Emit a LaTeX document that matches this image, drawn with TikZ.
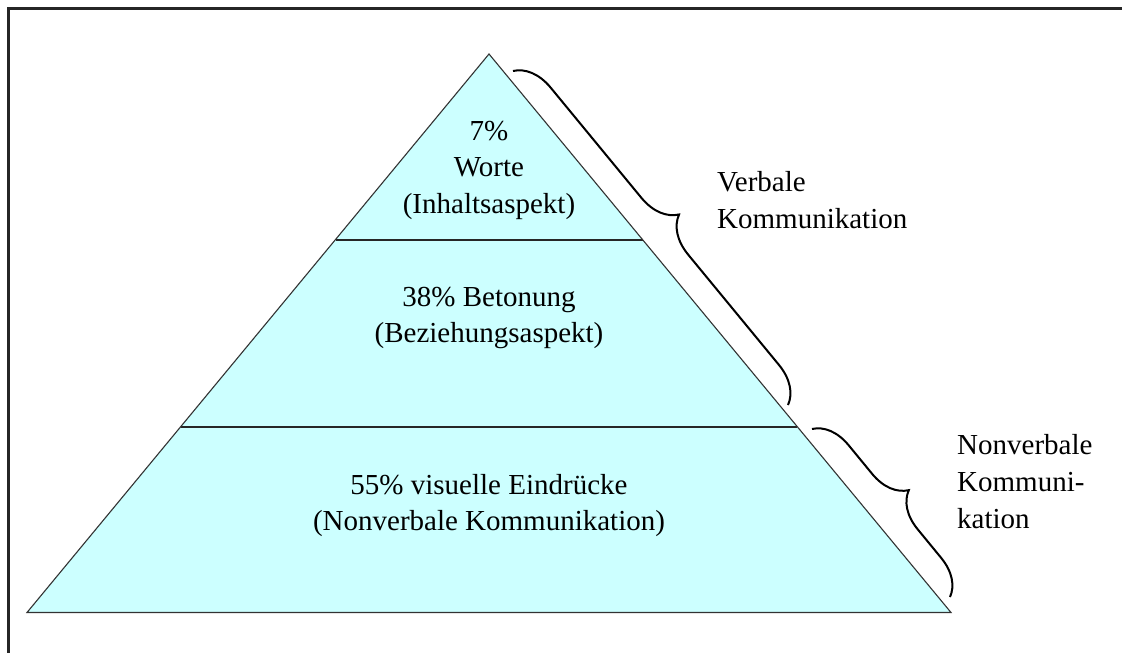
\documentclass[tikz,border=0pt]{standalone}
\usepackage{fontspec}
\setmainfont{Liberation Serif}
\usetikzlibrary{decorations.pathreplacing}
\definecolor{pyrfill}{HTML}{CCFFFF}
\begin{document}
\begin{tikzpicture}[x=1pt,y=-1pt,
  lbl/.style={anchor=base,inner sep=0pt,font=\fontsize{29}{36}\selectfont},
  sidelbl/.style={anchor=base west,inner sep=0pt,font=\fontsize{29}{36}\selectfont},
  divider/.style={draw=black!85,line width=2pt},
  bracket/.style={draw=black,line width=2pt,decorate,decoration={brace,amplitude=37pt}}]
\useasboundingbox (0,0) rectangle (1122,653);
% frame (left and top edges)
\draw[line width=2.2pt,black!85] (8.5,653) -- (8.5,8.5) -- (1122,8.5);
% pyramid
\coordinate (apex) at (489,54);
\coordinate (bl) at (27,612.5);
\coordinate (br) at (951,612.5);
\fill[pyrfill] (apex) -- (br) -- (bl) -- cycle;
\draw[divider] (335.5,240) -- (642.5,240);
\draw[divider] (181,426.5) -- (797,426.5);
\draw[black!80,line width=1.1pt,line join=miter] (apex) -- (br) -- (bl) -- cycle;
% level texts
\node[lbl] (t1) at (489,140) {7\%};
\node[lbl] (t2) at (489,176) {Worte};
\node[lbl] (t3) at (489,213) {(Inhaltsaspekt)};
\node[lbl] (m1) at (489,306) {38\% Betonung};
\node[lbl] (m2) at (489,342) {(Beziehungsaspekt)};
\node[lbl] (b1) at (489,494) {55\% visuelle Eindrücke};
\node[lbl] (b2) at (489,530) {(Nonverbale Kommunikation)};
% braces
\coordinate (v1) at (513,71);
\coordinate (v2) at (788,405);
\coordinate (n1) at (812,429);
\coordinate (n2) at (950,597);
\draw[bracket] (v1) -- (v2);
\draw[bracket,decoration={amplitude=36pt}] (n1) -- (n2);
% side labels
\node[sidelbl] (vl1) at (717,191) {Verbale};
\node[sidelbl] (vl2) at (717,228) {Kommunikation};
\node[sidelbl] (nl1) at (957,454) {Nonverbale};
\node[sidelbl] (nl2) at (957,491) {Kommuni-};
\node[sidelbl] (nl3) at (957,528) {kation};
\end{tikzpicture}
\end{document}
